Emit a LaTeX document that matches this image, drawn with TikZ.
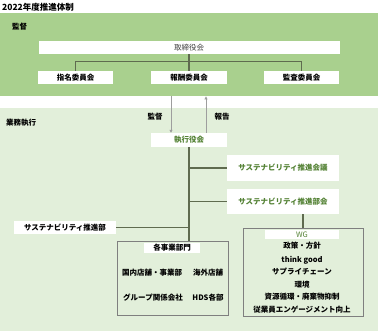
\documentclass[tikz,border=0pt]{standalone}
\usepackage{fontspec}
\setmainfont{Noto Sans CJK JP}
\usetikzlibrary{arrows.meta}
\definecolor{kanGreen}{HTML}{A9D08E}
\definecolor{gyoGreen}{HTML}{E2EFDA}
\definecolor{txtGreen}{HTML}{548235}
\definecolor{lineOlive}{HTML}{5F6B4F}
\definecolor{arrGray}{HTML}{9E9E9E}
\definecolor{frameGray}{HTML}{7F7F7F}
\tikzset{
  lbl/.style={font=\fontsize{7.5}{8}\selectfont\bfseries, inner sep=0pt},
  wbox/.style={lbl, fill=white},
  gbox/.style={wbox, text=txtGreen},
  frame/.style={draw=frameGray, line width=0.9pt, inner sep=0pt},
  conn/.style={draw=lineOlive, line width=1.3pt},
  arr/.style={draw=arrGray, line width=0.8pt, -{Triangle[length=3pt,width=3pt]}},
}
\begin{document}
\begin{tikzpicture}[x=1pt, y=-1pt]
    \useasboundingbox (0,0) rectangle (378,331);
    % panels
    \node[fill=kanGreen, minimum width=378pt, minimum height=83pt, inner sep=0pt, anchor=north west] (kanpanel) at (0,13) {};
    \node[fill=gyoGreen, minimum width=378pt, minimum height=223pt, inner sep=0pt, anchor=north west] (gyopanel) at (0,108) {};
    \node[lbl, font=\fontsize{8.5}{10}\selectfont\bfseries, anchor=west] (title) at (2,7) {2022年度推進体制};
    \node[lbl, anchor=west] (kanlbl) at (12,27) {監督};
    \node[lbl, anchor=west] (gyolbl) at (6,123) {業務執行};

    % 監督
    \node[wbox, font=\fontsize{7.5}{8}\selectfont, text=darkgray, minimum width=301pt, minimum height=13pt] (torishimari) at (189,47.5) {取締役会};
    \node[wbox, minimum width=75pt, minimum height=13pt] (shimei) at (75.5,77.5) {指名委員会};
    \node[wbox, minimum width=76pt, minimum height=13pt] (hoshu) at (189,77.5) {報酬委員会};
    \node[wbox, minimum width=75pt, minimum height=13pt] (kansa) at (301.5,77.5) {監査委員会};
    \draw[conn] (torishimari.south) -- (hoshu.north);
    \draw[conn] (shimei.north) -- ++(0,-9) -| (kansa.north);

    % 業務執行
    \node[gbox, minimum width=76pt, minimum height=14pt] (jikko) at (189,140) {執行役会};
    \draw[arr] ([xshift=-18pt]jikko.north |- kanpanel.south) -- ([xshift=-18pt]jikko.north);
    \draw[arr] ([xshift=17pt]jikko.north) -- ([xshift=17pt]jikko.north |- kanpanel.south);
    \node[lbl] (kanarr) at (155,117) {監督};
    \node[lbl] (hokoku) at (222,117) {報告};

    \node[gbox, minimum width=112pt, minimum height=26pt] (kaigi) at (283,168) {サステナビリティ推進会議};
    \node[gbox, minimum width=112pt, minimum height=25pt] (bukai) at (283,201.5) {サステナビリティ推進部会};
    \node[wbox, minimum width=102pt, minimum height=13pt] (suishinbu) at (65,227.5) {サステナビリティ推進部};

    \node[frame, minimum width=111pt, minimum height=74pt] (bumon) at (172.5,278) {};
    \node[wbox, minimum width=56pt, minimum height=10pt] (bumonlbl) at (172,248) {各事業部門};
    \node[lbl] (kokunai) at (152,273) {国内店舗・事業部};
    \node[lbl] (kaigai) at (208,273) {海外店舗};
    \node[lbl] (group) at (153,298) {グループ関係会社};
    \node[lbl] (hds) at (208,298) {HDS各部};

    \node[frame, minimum width=120pt, minimum height=88pt] (wg) at (303,272) {};
    \node[wbox, font=\fontsize{7.5}{8}\selectfont, text=txtGreen, minimum width=74pt, minimum height=9pt] (wglbl) at (302,234.5) {WG};
    \node[lbl] (seisaku) at (302,246) {政策・方針};
    \node[lbl] (think) at (302,260) {think good};
    \node[lbl] (supply) at (302,272) {サプライチェーン};
    \node[lbl] (kankyo) at (302,285) {環境};
    \node[lbl] (shigen) at (302,297) {資源循環・廃棄物抑制};
    \node[lbl] (jugyoin) at (302,310) {従業員エンゲージメント向上};

    \draw[conn] (jikko.south) -- (jikko.south |- bumon.north);
    \draw[conn] (kaigi.west) -- (kaigi.west -| jikko.south);
    \draw[conn] (bukai.west) -- (bukai.west -| jikko.south);
    \draw[conn] (suishinbu.east) -- (suishinbu.east -| jikko.south);
    \draw[conn] (wg.north) -- (wg.north |- bukai.south);
\end{tikzpicture}
\end{document}
